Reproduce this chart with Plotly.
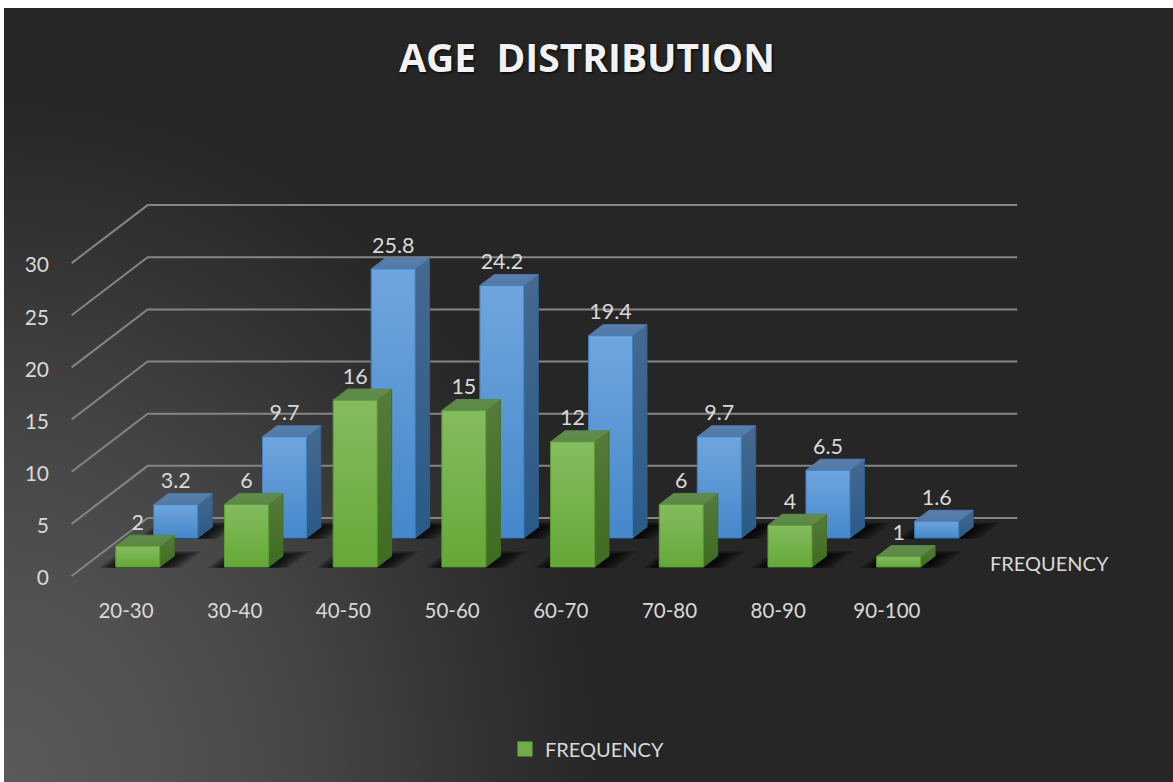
import base64
import plotly.graph_objects as go

# Chart data
categories = ["20-30", "30-40", "40-50", "50-60", "60-70", "70-80", "80-90", "90-100"]
front_values = [2, 6, 16, 15, 12, 6, 4, 1]
back_values = [3.2, 9.7, 25.8, 24.2, 19.4, 9.7, 6.5, 1.6]
value_ticks = [0, 5, 10, 15, 20, 25, 30]
series_name = "FREQUENCY"

# Page geometry (pixels)
W, H = 1173, 782
PLOT_L, PLOT_R, PLOT_T, PLOT_B = 50, 1165, 8, 596
ORIGIN_X, ORIGIN_Y = 126.0, 576.0   # category 0, value 0, depth 0
PX_PER_CAT, PX_PER_VAL = 108.7, 10.43
DEPTH_X, DEPTH_Y = 76.0, 58.0       # screen shift across the full floor depth

BAR_HALF = 22.0 / PX_PER_CAT
KX = DEPTH_X / PX_PER_CAT
KY = DEPTH_Y / PX_PER_VAL
ROW_DEPTH = 0.19
FRONT_D, BACK_D = 0.155, 0.655


def proj(c, v, d):
    """Oblique projection of (category, value, depth) onto the flat axes."""
    return c + KX * d, v + KY * d


def poly(points):
    xs, ys = zip(*[proj(*p) for p in points])
    return list(xs) + [xs[0]], list(ys) + [ys[0]]


fig = go.Figure()

# Walls: gridlines run along the side wall, then along the back wall
for t in value_ticks:
    xs, ys = zip(*[proj(-0.5, t, 0), proj(-0.5, t, 1), proj(7.5, t, 1)])
    fig.add_trace(go.Scatter(x=xs, y=ys, mode="lines", showlegend=False, hoverinfo="skip",
                             line=dict(color="#858585", width=2)))

# Soft floor shadows, built from stacked translucent footprints
SHADOW_LAYERS = 14
for d0 in (BACK_D, FRONT_D):
    for step in range(SHADOW_LAYERS):
        grow = SHADOW_LAYERS - step
        grow_l, grow_r = grow * 0.0105, grow * 0.0145
        grow_d = grow * 0.006
        xs, ys = [], []
        for i in range(len(categories)):
            px, py = poly([(i - BAR_HALF - grow_l, 0, d0 - 0.012),
                           (i + BAR_HALF + grow_r, 0, d0 - 0.012),
                           (i + BAR_HALF + grow_r, 0, d0 + ROW_DEPTH + grow_d),
                           (i - BAR_HALF - grow_l, 0, d0 + ROW_DEPTH + grow_d)])
            xs += px + [None]
            ys += py + [None]
        fig.add_trace(go.Scatter(x=xs, y=ys, mode="lines", fill="toself", showlegend=False,
                                 hoverinfo="skip", line=dict(width=0),
                                 fillcolor="rgba(0,0,0,0.085)"))


def face(points, low, high, edge):
    xs, ys = poly(points)
    fig.add_trace(go.Scatter(
        x=xs, y=ys, mode="lines", fill="toself", showlegend=False, hoverinfo="skip",
        line=dict(color=edge, width=1),
        fillgradient=dict(type="vertical", colorscale=[[0, low], [1, high]]),
    ))


def draw_row(values, d0, front, side, top, edges):
    d1 = d0 + ROW_DEPTH
    for i, v in enumerate(values):
        l, r = i - BAR_HALF, i + BAR_HALF
        face([(r, 0, d0), (r, 0, d1), (r, v, d1), (r, v, d0)], side[0], side[1], edges[1])
        face([(l, v, d0), (r, v, d0), (r, v, d1), (l, v, d1)], top[0], top[1], edges[2])
        face([(l, 0, d0), (r, 0, d0), (r, v, d0), (l, v, d0)], front[0], front[1], edges[0])


draw_row(back_values, BACK_D,
         front=("#4488cb", "#70a5de"), side=("#2a5a87", "#46698f"), top=("#5279a7", "#5880ab"),
         edges=("#3f80bf", "#2f5f8c", "#5279a7"))
draw_row(front_values, FRONT_D,
         front=("#64a836", "#85bc60"), side=("#3e6c1f", "#567a3b"), top=("#5b8848", "#618d4b"),
         edges=("#5c9e31", "#426f24", "#5b8848"))


# Value labels above each bar, centred on its front face
def labels(values, d0):
    pts = [(proj(i, v, d0)[0], proj(i, v, d0 + ROW_DEPTH)[1]) for i, v in enumerate(values)]
    fig.add_trace(go.Scatter(x=[p[0] for p in pts], y=[p[1] for p in pts], mode="text",
                             text=[str(v) for v in values], textposition="top center",
                             textfont=dict(family="Lato", size=21.5, color="#d9d9d9"),
                             showlegend=False, hoverinfo="skip"))


labels(back_values, BACK_D)
labels(front_values, FRONT_D)

# Legend entry
fig.add_trace(go.Scatter(x=[None], y=[None], mode="markers", name=series_name,
                         marker=dict(symbol="square", size=15, color="#70ad47")))

# Background panel with a glow rising from the lower left corner
panel = f"""<svg xmlns='http://www.w3.org/2000/svg' width='{W}' height='{H}' viewBox='0 0 {W} {H}'>
<defs><radialGradient id='g' gradientUnits='userSpaceOnUse' cx='0' cy='0' r='600'
 gradientTransform='translate(4 782) scale(1 1.15)'>
<stop offset='0' stop-color='#5a5a5a'/><stop offset='0.25' stop-color='#525252'/>
<stop offset='0.5' stop-color='#464646'/><stop offset='0.8' stop-color='#323232'/>
<stop offset='1' stop-color='#262626'/></radialGradient></defs>
<rect x='4' y='8' width='{W - 4}' height='{H - 8}' fill='url(#g)'/></svg>"""
panel_uri = "data:image/svg+xml;base64," + base64.b64encode(panel.encode()).decode()

pw, ph = PLOT_R - PLOT_L, PLOT_B - PLOT_T

fig.update_layout(
    width=W, height=H, autosize=False,
    margin=dict(l=PLOT_L, r=W - PLOT_R, t=PLOT_T, b=H - PLOT_B, pad=0),
    paper_bgcolor="white", plot_bgcolor="rgba(0,0,0,0)",
    font=dict(family="Lato", size=20, color="#d9d9d9"),
    title=dict(text="AGE\u00a0\u00a0DISTRIBUTION", x=(587 - PLOT_L) / pw, xanchor="center", xref="paper",
               y=1 - 58 / H, yanchor="middle",
               font=dict(family="Open Sans", size=39, color="#f2f2f2", weight="bold",
                         shadow="1px 1px 3px #000")),
    xaxis=dict(range=[(PLOT_L - ORIGIN_X) / PX_PER_CAT, (PLOT_R - ORIGIN_X) / PX_PER_CAT],
               tickvals=list(range(len(categories))), ticktext=categories,
               tickfont=dict(size=20.5),
               showgrid=False, zeroline=False, showline=False, ticks="", fixedrange=True),
    yaxis=dict(range=[(ORIGIN_Y - PLOT_B) / PX_PER_VAL, (ORIGIN_Y - PLOT_T) / PX_PER_VAL],
               tickvals=value_ticks, showgrid=False, zeroline=False, showline=False, ticks="",
               tickfont=dict(size=21), ticklabelshift=2, fixedrange=True),
    legend=dict(x=(587 - PLOT_L) / pw, xref="paper", xanchor="center",
                y=(PLOT_B - 749) / ph, yanchor="middle", orientation="h",
                bgcolor="rgba(0,0,0,0)", font=dict(size=20, color="#d9d9d9")),
    annotations=[dict(text=series_name, x=(1049 - PLOT_L) / pw, y=(PLOT_B - 563) / ph,
                      xref="paper", yref="paper", xanchor="center", yanchor="middle",
                      showarrow=False, font=dict(size=20, color="#d9d9d9"))],
    images=[dict(source=panel_uri, xref="paper", yref="paper", x=-PLOT_L / pw, y=1 + PLOT_T / ph,
                 sizex=W / pw, sizey=H / ph, xanchor="left", yanchor="top", sizing="stretch",
                 layer="below")],
)

fig.write_html("out.html")
